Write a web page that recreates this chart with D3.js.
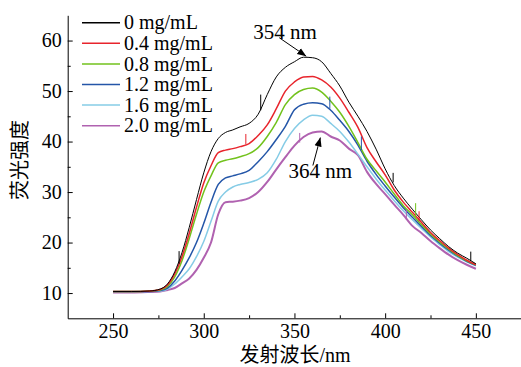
<!DOCTYPE html>
<html>
<head>
<meta charset="utf-8">
<script src="https://cdn.jsdelivr.net/npm/d3@7"></script>
<style>
  body { margin: 0; background: #fff; }
  svg { display: block; }
  text { font-family: "Liberation Serif", "Times New Roman", serif; fill: #000; }
  .cjk { font-family: "Noto Sans CJK SC", sans-serif; }
</style>
</head>
<body>
<svg id="chart" width="521" height="367"></svg>
<script>
// wavelength grid (nm)
const wavelengths = [250, 260, 270, 276, 280, 284, 288, 292, 296, 300, 304, 308, 312, 316, 320, 325, 330, 335, 340, 345,
  350, 355, 360, 365, 370, 375, 380, 385, 390, 395, 400, 405, 410, 415, 420, 425, 430, 435, 440, 445, 450];

const seriesNames = ["0 mg/mL", "0.4 mg/mL", "0.8 mg/mL", "1.2 mg/mL", "1.6 mg/mL", "2.0 mg/mL"];

const black = [10.3, 10.3, 10.4, 10.8, 11.8, 14.2, 18.0, 23.0, 28.5, 33.8, 38.0, 40.6, 41.8, 42.3, 42.9, 43.6, 45.4, 49.3, 52.8, 54.7,
  55.8, 56.7, 56.6, 55.8, 53.5, 51.0, 47.8, 45.0, 42.0, 38.5, 34.6, 31.3, 28.8, 26.6, 24.5, 22.5, 20.8, 19.2, 17.9, 16.9, 15.8];
const red = [10.3, 10.3, 10.4, 10.7, 11.6, 13.8, 17.2, 21.8, 27.0, 31.8, 35.2, 37.8, 38.3, 38.6, 39.0, 39.6, 41.2, 43.3, 46.5, 50.0,
  51.8, 52.8, 52.9, 52.2, 50.8, 48.6, 45.8, 42.8, 38.8, 36.0, 33.4, 30.4, 28.0, 26.0, 24.0, 22.0, 20.4, 18.9, 17.6, 16.5, 15.6];
const green = [10.3, 10.3, 10.4, 10.6, 11.3, 13.2, 16.4, 20.8, 25.6, 30.0, 33.2, 35.8, 36.3, 36.6, 37.0, 37.6, 38.8, 41.0, 43.8, 47.3,
  49.3, 50.3, 50.6, 49.8, 48.0, 45.8, 43.0, 39.8, 36.5, 34.2, 32.0, 29.6, 27.3, 25.5, 23.6, 21.7, 20.1, 18.7, 17.4, 16.4, 15.6];
const blue = [10.3, 10.3, 10.3, 10.5, 11.0, 12.4, 14.5, 17.0, 20.0, 23.8, 28.0, 31.5, 32.8, 33.2, 33.6, 34.3, 36.0, 38.0, 40.4, 43.0,
  46.3, 47.4, 47.7, 47.5, 46.2, 44.2, 42.0, 39.3, 36.1, 33.5, 31.2, 29.0, 26.9, 25.0, 23.2, 21.4, 19.9, 18.5, 17.3, 16.3, 15.5];
const lightBlue = [10.2, 10.2, 10.3, 10.4, 10.8, 11.8, 13.2, 14.8, 17.2, 20.2, 24.2, 28.2, 30.0, 31.0, 31.5, 31.9, 32.5, 33.8, 36.5, 40.0,
  42.6, 44.3, 45.2, 45.0, 43.6, 42.0, 39.9, 37.5, 35.0, 32.6, 30.4, 28.3, 26.3, 24.5, 22.8, 21.1, 19.6, 18.2, 17.1, 16.2, 15.4];
const purple = [10.1, 10.1, 10.2, 10.3, 10.6, 11.0, 11.9, 12.9, 14.6, 17.0, 20.0, 25.6, 28.0, 28.1, 28.3, 28.8, 30.0, 32.0, 34.5, 36.9,
  39.2, 40.9, 41.8, 42.0, 41.0, 40.2, 38.6, 37.3, 34.0, 31.6, 29.6, 27.5, 25.5, 23.3, 21.9, 20.3, 18.9, 17.6, 16.5, 15.6, 14.8];

// spikes in the raw spectra: [series index, wavelength, low, high]
const spikes = [
  [0, 286.4, 15.8, 18.3], [0, 331.4, 46.2, 49.3], [0, 404.4, 31.9, 33.8], [0, 447.2, 16.4, 18.2],
  [1, 323.2, 39.4, 41.5], [1, 418.7, 24.2, 26.2],
  [2, 416.8, 25.0, 27.8],
  [3, 369.5, 46.5, 48.9], [3, 386.9, 38.3, 41.0],
  [5, 352.9, 39.8, 41.7], [5, 411.7, 24.5, 26.5]
];

const yTicks = [10, 20, 30, 40, 50, 60];
const yMinor = [15, 25, 35, 45, 55];
const xTicks = [250, 300, 350, 400, 450];
const xMinor = [275, 325, 375, 425];

// peak annotations: label, wavelength and intensity at arrow tip
const peaks = [
  {label: "354 nm", wl: 356.5, val: 56.9},
  {label: "364 nm", wl: 364.3, val: 40.8}
];

const allSeries = [black, red, green, blue, lightBlue, purple];
const colors = ["#000000", "#e8242c", "#72c21c", "#2456a8", "#86cce6", "#b062b0"];
const widths = [1, 1.5, 1.5, 1.5, 1.5, 2];

const svg = d3.select("#chart");
const x = d3.scaleLinear().domain([225, 475]).range([67.7, 521.2]);
const y = d3.scaleLinear().domain([5, 65]).range([318.3, 15.3]);

// axes
const gy = svg.append("g").attr("transform", "translate(67.7,0)")
  .call(d3.axisLeft(y).tickValues(yTicks).tickSize(-5).tickSizeOuter(0).tickPadding(6));
gy.append("g").call(d3.axisLeft(y).tickValues(yMinor).tickSize(-3).tickFormat("")).select(".domain").remove();
const gx = svg.append("g").attr("transform", "translate(0,318.3)")
  .call(d3.axisBottom(x).tickValues(xTicks).tickSize(-5).tickSizeOuter(0).tickPadding(6));
gx.append("g").call(d3.axisBottom(x).tickValues(xMinor).tickSize(-3).tickFormat("")).select(".domain").remove();
svg.selectAll(".tick text").style("font-family", "'Liberation Serif', serif").style("font-size", "20px");
svg.selectAll(".domain, .tick line").attr("stroke", "#000").attr("stroke-width", 1);

// axis labels
svg.append("text").attr("class", "cjk")
  .attr("transform", "translate(27,160) rotate(-90)")
  .attr("text-anchor", "middle").style("font-size", "20px")
  .text("荧光强度");
svg.append("text")
  .attr("x", 295).attr("y", 362)
  .attr("text-anchor", "middle").style("font-size", "20px")
  .html('<tspan class="cjk">发射波长</tspan>/nm');

// spectra, drawn weakest first so black sits on top
const line = d3.line()
  .x((d, i) => x(wavelengths[i]))
  .y(d => y(d))
  .curve(d3.curveMonotoneX);

const order = [5, 4, 3, 2, 1, 0];
svg.append("g").selectAll("path")
  .data(order)
  .join("path")
  .attr("fill", "none")
  .attr("stroke", i => colors[i])
  .attr("stroke-width", i => widths[i])
  .attr("stroke-linejoin", "round")
  .attr("d", i => line(allSeries[i]));

svg.append("g").selectAll("line")
  .data(spikes)
  .join("line")
  .attr("x1", d => x(d[1])).attr("x2", d => x(d[1]))
  .attr("y1", d => y(d[2])).attr("y2", d => y(d[3]))
  .attr("stroke", d => colors[d[0]])
  .attr("stroke-width", 1);

// legend
const legend = svg.append("g").attr("transform", "translate(82,22.7)");
const rows = legend.selectAll("g").data(seriesNames).join("g")
  .attr("transform", (d, i) => `translate(0,${i * 20.6})`);
rows.append("line").attr("x1", 0).attr("x2", 38)
  .attr("stroke", (d, i) => colors[i]).attr("stroke-width", 1.5);
rows.append("text").attr("x", 42).attr("dy", "0.33em")
  .style("font-size", "20px").text(d => d);

// peak arrows
svg.append("defs").append("marker")
  .attr("id", "head").attr("viewBox", "0 0 10 10")
  .attr("refX", 10).attr("refY", 5)
  .attr("markerWidth", 9).attr("markerHeight", 9)
  .attr("markerUnits", "userSpaceOnUse")
  .attr("orient", "auto")
  .append("path").attr("d", "M0,1 L10,5 L0,9 Z").attr("fill", "#000");

const p0 = peaks[0], p1 = peaks[1];
svg.append("text").attr("x", x(p0.wl) - 53).attr("y", y(p0.val) - 17.5)
  .style("font-size", "21px").text(p0.label);
svg.append("line")
  .attr("x1", x(p0.wl) - 27).attr("y1", y(p0.val) - 18.5)
  .attr("x2", x(p0.wl)).attr("y2", y(p0.val))
  .attr("stroke", "#000").attr("stroke-width", 1).attr("marker-end", "url(#head)");

svg.append("text").attr("x", x(p1.wl) - 32).attr("y", y(p1.val) + 40)
  .style("font-size", "21px").text(p1.label);
svg.append("line")
  .attr("x1", x(p1.wl) - 7.5).attr("y1", y(p1.val) + 28)
  .attr("x2", x(p1.wl)).attr("y2", y(p1.val))
  .attr("stroke", "#000").attr("stroke-width", 1).attr("marker-end", "url(#head)");
</script>
</body>
</html>
